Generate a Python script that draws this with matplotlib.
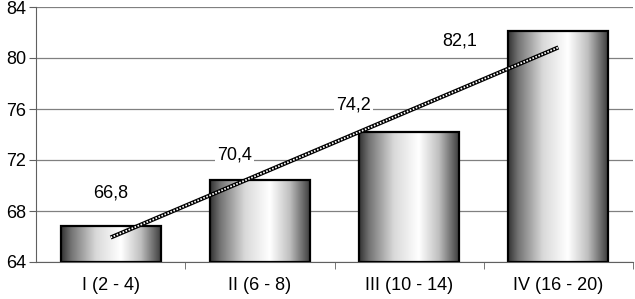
import numpy as np
import matplotlib
matplotlib.use('Agg')
import matplotlib.pyplot as plt

plt.rcParams['font.family'] = ['Liberation Sans', 'DejaVu Sans']

categories = ['I (2 - 4)', 'II (6 - 8)', 'III (10 - 14)', 'IV (16 - 20)']
values = [66.8, 70.4, 74.2, 82.1]
value_labels = ['66,8', '70,4', '74,2', '82,1']

# где стоят подписи значений (смещения относительно верха столбца)
label_dx = [0.0, -0.17, -0.37, -0.66]
label_dy = [2.6, 2.0, 2.1, -0.8]

fig = plt.figure(figsize=(6.35, 2.99), dpi=100)
ax = fig.add_axes([36 / 635, 1 - 262 / 299, 597 / 635, 255 / 299])

ax.set_xlim(-0.5, 3.5)
ax.set_ylim(64, 84)
ax.set_yticks(np.arange(64, 85, 4))
ax.yaxis.grid(True, color='#808080', lw=0.9)
ax.set_axisbelow(True)

# градиент столбцов: темно по краям, светло ближе к правой трети
t = np.linspace(0, 1, 200)
shade = np.interp(t, [0, 0.1, 0.35, 0.6, 0.8, 1.0], [0.2, 0.45, 0.85, 1.0, 0.75, 0.25])
grad = shade.reshape(1, -1)

w = 0.67
x = np.arange(len(categories))
for i, v in enumerate(values):
    ax.imshow(grad, cmap='gray', vmin=0, vmax=1, aspect='auto',
              extent=(x[i] - w / 2, x[i] + w / 2, 64, v), zorder=2)
    ax.bar(x[i], v - 64, bottom=64, width=w, fill=False, edgecolor='black', lw=1.6, zorder=3)

# линейный тренд
k, b = np.polyfit(x, values, 1)
trend = k * x + b
ax.plot(x, trend, color='black', lw=3.0, zorder=4, solid_capstyle='butt')
ax.plot(x, trend, color='white', lw=1.3, ls=(0, (0.9, 0.9)), zorder=5)

for i, lab in enumerate(value_labels):
    ax.text(x[i] + label_dx[i], values[i] + label_dy[i], lab, ha='center', va='center', fontsize=13,
            zorder=6, bbox=dict(facecolor='white', edgecolor='none', pad=1.5))

ax.set_xticks(x)
ax.set_xticklabels(categories, fontsize=13)
ax.set_xticks(np.arange(0.5, 4, 1), minor=True)
ax.tick_params(axis='x', which='major', length=0, pad=11)
ax.tick_params(axis='x', which='minor', length=5, color='#606060')
ax.tick_params(axis='y', labelsize=13, length=5, color='#606060', pad=2)

for s in ['top', 'right']:
    ax.spines[s].set_visible(False)
ax.spines['left'].set_color('#606060')
ax.spines['bottom'].set_color('#606060')

plt.savefig('out.png', dpi=100)
